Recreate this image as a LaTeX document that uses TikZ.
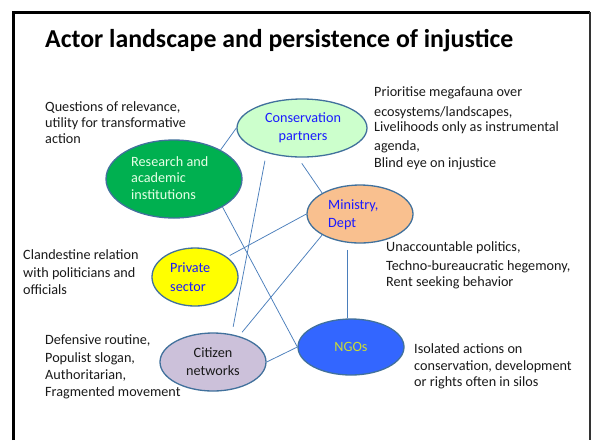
\documentclass[tikz,border=0pt]{standalone}
\usepackage{fontspec}
\setmainfont{Carlito}
\usetikzlibrary{shapes.geometric}
\definecolor{ellborder}{HTML}{41719C}
\definecolor{linkblue}{HTML}{4A7EBB}
\definecolor{consfill}{HTML}{CCFFCC}
\definecolor{resfill}{HTML}{00B050}
\definecolor{restext}{HTML}{E6FFE6}
\definecolor{minfill}{HTML}{F9C08F}
\definecolor{privfill}{HTML}{FFFF00}
\definecolor{citfill}{HTML}{CCC1DA}
\definecolor{ngofill}{HTML}{3366FF}
\definecolor{ngotext}{HTML}{CCDD33}
\definecolor{bluetext}{HTML}{1A1AFF}
\definecolor{bodytext}{HTML}{1A1A1A}
\begin{document}
\begin{tikzpicture}[x=1pt,y=-1pt,
  actor/.style={ellipse, draw=ellborder, line width=1.3pt, inner sep=0pt},
  link/.style={draw=linkblue, line width=0.75pt},
  intext/.style={font=\fontsize{14.2}{18}\selectfont, inner sep=0pt},
  note/.style={font=\fontsize{14.2}{16.5}\selectfont, text=bodytext, anchor=west, align=left, inner sep=0pt},
  ]
\useasboundingbox (0,0) rectangle (591,440);
\fill[white] (0,0) rectangle (591,440);
\draw[line width=3pt] (13,440) -- (13,12) -- (590,12);
\draw[line width=1.2pt, black!80] (590,12) -- (590,440);

\node[anchor=base west, inner sep=0pt, font=\fontsize{25.8}{30}\selectfont\bfseries] (title) at (45,47) {Actor landscape and persistence of injustice};

% actors
\node[actor, fill=consfill, minimum width=130pt, minimum height=58pt] (cons) at (302,128) {};
\node[actor, fill=resfill, minimum width=136pt, minimum height=78pt] (res) at (174,179) {};
\node[actor, fill=minfill, minimum width=106pt, minimum height=58pt] (min) at (360,214) {};
\node[actor, fill=privfill, minimum width=86pt, minimum height=58pt] (priv) at (195,277) {};
\node[actor, fill=citfill, minimum width=106pt, minimum height=58pt] (cit) at (213,362) {};
\node[actor, fill=ngofill, minimum width=106pt, minimum height=56pt] (ngo) at (351,347) {};

% actor texts
\node[intext, text=bluetext, align=center] (constext) at (303,128) {Conservation\\partners};
\node[intext, text=restext, align=left, anchor=west, font=\fontsize{14.2}{16.5}\selectfont] (restext) at (131,178) {Research and\\academic\\institutions};
\node[intext, text=bluetext, align=left, anchor=west] (mintext) at (328,215) {Ministry,\\Dept};
\node[intext, text=bluetext, align=left, anchor=west, font=\fontsize{14.2}{19}\selectfont] (privtext) at (170,277.5) {Private\\sector};
\node[intext, text=bodytext, align=center] (cittext) at (213,362) {Citizen\\networks};
\node[intext, text=ngotext] (ngotxt) at (351,347) {NGOs};

% links
\draw[link] (res.32) -- (cons.west);
\draw[link] (res.-30) -- (ngo.west);
\draw[link, shorten <=8pt, shorten >=7.5pt] (cons.215) -- (cit.56);
\draw[link, shorten <=7pt] (cons.262) -- (min.151);
\draw[link, shorten <=3pt] (priv.32) -- (min.west);
\draw[link, shorten <=5pt] (cit.45) -- (min.209);
\draw[link, shorten <=7pt] (min.247) -- (min.247 |- ngo.north);
\draw[link] (cit.east) -- (ngo.west);

% notes
\node[note, font=\fontsize{14.2}{16}\selectfont] (qnote) at (45,123) {Questions of relevance,\\utility for transformative\\action};
\node[note, font=\fontsize{14.2}{16}\selectfont] (pnote) at (374,128.5) {Prioritise megafauna over\\[4pt]ecosystems/landscapes,\\[-1pt]Livelihoods only as instrumental\\[3pt]agenda,\\[1pt]Blind eye on injustice};
\node[note, font=\fontsize{14.2}{16}\selectfont] (unote) at (386,265.5) {Unaccountable politics,\\[3pt]Techno-bureaucratic hegemony,\\Rent seeking behavior};
\node[note, font=\fontsize{14.2}{17.5}\selectfont] (cnote) at (23,272.5) {Clandestine relation\\with politicians and\\officials};
\node[note, font=\fontsize{14.2}{17.3}\selectfont] (dnote) at (45,367) {Defensive routine,\\Populist slogan,\\Authoritarian,\\Fragmented movement};
\node[note, font=\fontsize{14.2}{16}\selectfont] (inote) at (414,366.5) {Isolated actions on\\[1.5pt]conservation, development\\or rights often in silos};
\end{tikzpicture}
\end{document}
